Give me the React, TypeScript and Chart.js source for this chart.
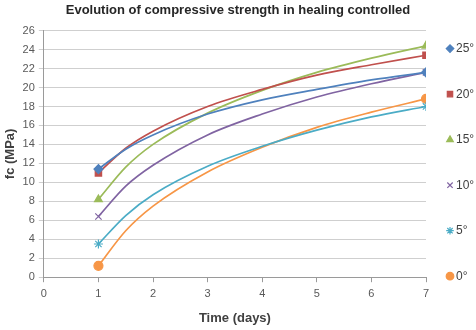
import React, { useEffect, useRef } from "react";
import { Chart, registerables } from "chart.js";
import { drawPoint } from "chart.js/helpers";

Chart.register(...registerables);

const days = [1, 1.5, 2, 3, 4, 5, 6, 7];
const labels = ["25°", "20°", "15°", "10°", "5°", "0°"];
const s25 = [11.4, 13.5, 15.0, 17.2, 18.7, 19.8, 20.8, 21.6];
const s20 = [11.0, 13.6, 15.4, 18.0, 19.8, 21.3, 22.4, 23.4];
const s15 = [8.2, 11.6, 14.0, 17.3, 19.7, 21.6, 23.1, 24.4];
const s10 = [6.4, 9.6, 11.8, 15.0, 17.2, 19.0, 20.4, 21.6];
const s5 = [3.5, 6.5, 8.7, 11.7, 13.8, 15.5, 16.9, 18.0];
const s0 = [1.2, 4.9, 7.5, 11.1, 13.7, 15.8, 17.4, 18.8];
const series = [s25, s20, s15, s10, s5, s0];
const markedDays = [1, 7];

const colors = ["#4F81BD", "#C0504D", "#9BBB59", "#8064A2", "#4BACC6", "#F79646"];
const styles = ["rectRot", "rect", "triangle", "crossRot", "star", "circle"];
const radii = [4.5, 4.5, 4.5, 4.5, 4.5, 4.5];

const FONT = "'Liberation Sans', Arial, sans-serif";

const sideLegend = {
  id: "sideLegend",
  afterDraw(chart: any) {
    const ctx = chart.ctx;
    const area = chart.chartArea;
    const n = chart.data.datasets.length;
    const y0 = area.top + 18;
    const y1 = area.bottom - 1;
    ctx.save();
    chart.data.datasets.forEach((ds: any, i: number) => {
      const y = y0 + ((y1 - y0) * i) / (n - 1);
      const x = area.right + 24;
      ctx.fillStyle = ds.borderColor;
      ctx.strokeStyle = ds.borderColor;
      ctx.lineWidth = 1.2;
      drawPoint(ctx, { pointStyle: ds.pointStyle, rotation: 0, borderWidth: 1.2, radius: 3.8 }, x, y);
      ctx.fillStyle = "#404040";
      ctx.font = `12px ${FONT}`;
      ctx.textBaseline = "middle";
      ctx.textAlign = "left";
      ctx.fillText(ds.label, x + 6, y + 0.5);
    });
    ctx.restore();
  },
};

export default function App() {
  const ref = useRef<HTMLCanvasElement>(null);
  useEffect(() => {
    if (!ref.current) return;
    const datasets = series.map((s, i) => ({
      label: labels[i],
      data: s.map((v, j) => ({ x: days[j], y: v })),
      borderColor: colors[i],
      backgroundColor: colors[i],
      pointBackgroundColor: colors[i],
      pointBorderColor: colors[i],
      pointStyle: styles[i],
      pointRadius: days.map((d) => (markedDays.includes(d) ? radii[i] : 0)),
      pointBorderWidth: 1.2,
      borderWidth: 1.7,
      cubicInterpolationMode: "monotone" as const,
      fill: false,
    }));
    const chart = new Chart(ref.current, {
      type: "line",
      data: { datasets },
      options: {
        animation: false,
        responsive: false,
        layout: { padding: { right: 0, left: 0, top: 0, bottom: 0 } },
        plugins: {
          legend: { display: false },
          tooltip: { enabled: false },
          title: {
            display: true,
            text: "Evolution of compressive strength in healing controlled",
            color: "#262626",
            font: { family: FONT, size: 13, weight: "bold" },
            padding: { top: 3, bottom: 12 },
          },
        },
        scales: {
          x: {
            type: "linear",
            min: 0,
            max: 7,
            ticks: { stepSize: 1, color: "#595959", font: { family: FONT, size: 11 }, padding: 5 },
            grid: { drawOnChartArea: false, drawTicks: true, tickLength: 5, color: "#9a9a9a" },
            border: { color: "#9a9a9a" },
            title: {
              display: true,
              text: "Time (days)",
              color: "#404040",
              font: { family: FONT, size: 13, weight: "bold" },
              padding: { top: 5, bottom: 4 },
            },
          },
          y: {
            min: 0,
            max: 26,
            ticks: { stepSize: 2, color: "#595959", font: { family: FONT, size: 11 }, padding: 4 },
            grid: { color: "#cfcfcf", tickLength: 5 },
            border: { color: "#9a9a9a" },
            title: {
              display: true,
              text: "fc (MPa)",
              color: "#404040",
              font: { family: FONT, size: 13, weight: "bold" },
              padding: { top: 3, bottom: 0 },
            },
          },
          legendSpace: {
            type: "linear",
            position: "right",
            display: true,
            ticks: { display: false },
            grid: { display: false },
            border: { display: false },
            afterFit: (s: any) => {
              s.width = 50;
            },
          } as any,
        },
      },
      plugins: [sideLegend],
    });
    return () => chart.destroy();
  }, []);
  return (
    <div style={{ position: "fixed", left: 0, top: 0, width: 476, height: 330, background: "#fff" }}>
      <canvas ref={ref} width={476} height={330} style={{ display: "block" }} />
    </div>
  );
}
